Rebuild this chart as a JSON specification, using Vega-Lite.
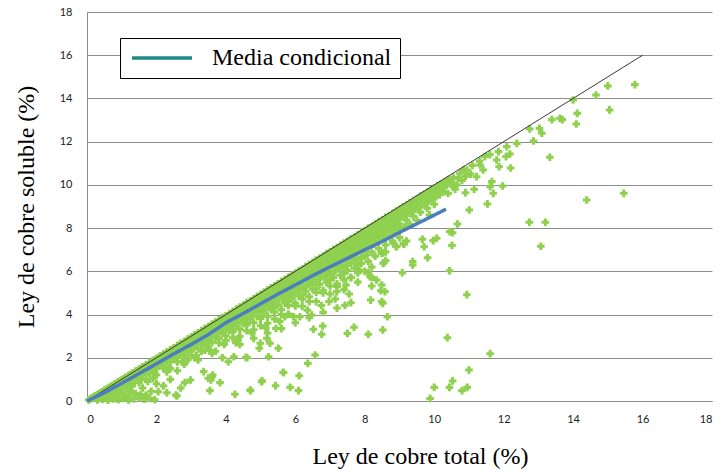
{
  "$schema": "https://vega.github.io/schema/vega-lite/v6.json",
  "width": 625,
  "height": 389,
  "autosize": "none",
  "padding": {"left": 87, "top": 12, "right": 9, "bottom": 71},
  "background": "white",
  "config": {
    "view": {"stroke": null},
    "axis": {
      "labelFont": "Lato", "labelFontSize": 11, "labelColor": "#222222",
      "titleFont": "Liberation Serif", "titleFontSize": 24, "titleFontWeight": "normal", "titleColor": "#000000",
      "domainColor": "#8c8c8c", "domainWidth": 1, "ticks": false, "gridColor": "#8c8c8c", "gridWidth": 1, "gridOpacity": 1
    },
    "axisX": {"grid": false, "labelPadding": 12, "titlePadding": 20, "titleX": 333},
    "axisY": {"grid": true, "labelPadding": 15, "titlePadding": 21}
  },
  "datasets": {
    "puntos": [
      {"x":0.1,"y":0.1},{"x":0.2,"y":0.2},{"x":0.3,"y":0.29},{"x":0.4,"y":0.39},{"x":0.5,"y":0.5},{"x":0.6,"y":0.59},{"x":0.7,"y":0.69},{"x":0.8,"y":0.79},{"x":0.9,"y":0.89},{"x":1.0,"y":0.98},
      {"x":1.1,"y":1.09},{"x":1.2,"y":1.18},{"x":1.3,"y":1.28},{"x":1.4,"y":1.39},{"x":1.5,"y":1.47},{"x":1.6,"y":1.58},{"x":1.7,"y":1.68},{"x":1.8,"y":1.77},{"x":1.9,"y":1.88},{"x":2.0,"y":1.97},
      {"x":2.1,"y":2.08},{"x":2.2,"y":2.17},{"x":2.3,"y":2.27},{"x":2.4,"y":2.38},{"x":2.5,"y":2.46},{"x":2.6,"y":2.57},{"x":2.7,"y":2.67},{"x":2.8,"y":2.75},{"x":2.9,"y":2.87},{"x":3.0,"y":2.96},
      {"x":3.1,"y":3.07},{"x":3.2,"y":3.15},{"x":3.3,"y":3.26},{"x":3.4,"y":3.36},{"x":3.5,"y":3.44},{"x":3.6,"y":3.56},{"x":3.7,"y":3.65},{"x":3.8,"y":3.74},{"x":3.9,"y":3.86},{"x":4.0,"y":3.94},
      {"x":4.1,"y":4.05},{"x":4.2,"y":4.14},{"x":4.3,"y":4.25},{"x":4.4,"y":4.35},{"x":4.5,"y":4.43},{"x":4.6,"y":4.55},{"x":4.7,"y":4.63},{"x":4.8,"y":4.73},{"x":4.9,"y":4.85},{"x":5.0,"y":4.92},
      {"x":5.1,"y":5.04},{"x":5.2,"y":5.13},{"x":5.3,"y":5.24},{"x":5.4,"y":5.33},{"x":5.5,"y":5.42},{"x":5.6,"y":5.54},{"x":5.7,"y":5.62},{"x":5.8,"y":5.72},{"x":5.9,"y":5.83},{"x":6.0,"y":5.91},
      {"x":6.1,"y":6.03},{"x":6.2,"y":6.11},{"x":6.3,"y":6.22},{"x":6.4,"y":6.33},{"x":6.5,"y":6.41},{"x":6.6,"y":6.52},{"x":6.7,"y":6.61},{"x":6.8,"y":6.7},{"x":6.9,"y":6.82},{"x":7.0,"y":6.9},
      {"x":7.1,"y":7.02},{"x":7.2,"y":7.1},{"x":7.3,"y":7.21},{"x":7.4,"y":7.31},{"x":7.5,"y":7.39},{"x":7.6,"y":7.51},{"x":7.7,"y":7.59},{"x":7.8,"y":7.69},{"x":7.9,"y":7.81},{"x":8.0,"y":7.88},
      {"x":8.1,"y":8.0},{"x":8.2,"y":8.08},{"x":8.3,"y":8.19},{"x":8.4,"y":8.3},{"x":8.5,"y":8.37},{"x":8.6,"y":8.5},{"x":8.7,"y":8.57},{"x":8.8,"y":8.68},{"x":8.9,"y":8.79},{"x":9.0,"y":8.87},
      {"x":9.1,"y":8.99},{"x":9.2,"y":9.07},{"x":9.3,"y":9.17},{"x":9.4,"y":9.28},{"x":9.5,"y":9.36},{"x":9.6,"y":9.48},{"x":9.7,"y":9.56},{"x":9.8,"y":9.66},{"x":9.9,"y":9.77},{"x":10.0,"y":9.85},
      {"x":10.1,"y":9.97},{"x":10.2,"y":10.05},{"x":10.3,"y":10.15},{"x":10.4,"y":10.25},
      {"x":0.05,"y":0.05},{"x":0.15,"y":0.14},{"x":0.25,"y":0.24},{"x":0.35,"y":0.34},{"x":0.45,"y":0.43},{"x":0.55,"y":0.53},{"x":0.65,"y":0.63},{"x":0.75,"y":0.72},{"x":0.85,"y":0.82},{"x":0.95,"y":0.92},
      {"x":1.05,"y":1.01},{"x":1.15,"y":1.11},{"x":1.25,"y":1.21},{"x":1.35,"y":1.3},{"x":1.45,"y":1.4},{"x":1.55,"y":1.5},{"x":1.65,"y":1.59},{"x":1.75,"y":1.69},{"x":1.85,"y":1.79},{"x":1.95,"y":1.88},
      {"x":2.05,"y":1.98},{"x":2.15,"y":2.07},{"x":2.25,"y":2.17},{"x":2.35,"y":2.27},{"x":2.45,"y":2.36},{"x":2.55,"y":2.46},{"x":2.65,"y":2.56},{"x":2.75,"y":2.65},{"x":2.85,"y":2.75},{"x":2.95,"y":2.85},
      {"x":3.05,"y":2.94},{"x":3.15,"y":3.04},{"x":3.25,"y":3.14},{"x":3.35,"y":3.23},{"x":3.45,"y":3.33},{"x":3.55,"y":3.43},{"x":3.65,"y":3.52},{"x":3.75,"y":3.62},{"x":3.85,"y":3.72},{"x":3.95,"y":3.81},
      {"x":4.05,"y":3.91},{"x":4.15,"y":4.0},{"x":4.25,"y":4.1},{"x":4.35,"y":4.2},{"x":4.45,"y":4.29},{"x":4.55,"y":4.39},{"x":4.65,"y":4.49},{"x":4.75,"y":4.58},{"x":4.85,"y":4.68},{"x":4.95,"y":4.78},
      {"x":5.05,"y":4.87},{"x":5.15,"y":4.97},{"x":5.25,"y":5.07},{"x":5.35,"y":5.16},{"x":5.45,"y":5.26},{"x":5.55,"y":5.36},{"x":5.65,"y":5.45},{"x":5.75,"y":5.55},{"x":5.85,"y":5.65},{"x":5.95,"y":5.74},
      {"x":6.05,"y":5.84},{"x":6.15,"y":5.93},{"x":6.25,"y":6.03},{"x":6.35,"y":6.13},{"x":6.45,"y":6.22},{"x":6.55,"y":6.32},{"x":6.65,"y":6.42},{"x":6.75,"y":6.51},{"x":6.85,"y":6.61},{"x":6.95,"y":6.71},
      {"x":7.05,"y":6.8},{"x":7.15,"y":6.9},{"x":7.25,"y":7.0},{"x":7.35,"y":7.09},{"x":7.45,"y":7.19},{"x":7.55,"y":7.29},{"x":7.65,"y":7.38},{"x":7.75,"y":7.48},{"x":7.85,"y":7.58},{"x":7.95,"y":7.67},
      {"x":8.05,"y":7.77},{"x":8.15,"y":7.86},{"x":8.25,"y":7.96},{"x":8.35,"y":8.06},{"x":8.45,"y":8.15},{"x":8.55,"y":8.25},{"x":8.65,"y":8.35},{"x":8.75,"y":8.44},{"x":8.85,"y":8.54},{"x":8.95,"y":8.64},
      {"x":9.05,"y":8.73},{"x":9.15,"y":8.83},{"x":9.25,"y":8.93},{"x":9.35,"y":9.02},{"x":9.45,"y":9.12},{"x":9.55,"y":9.22},{"x":9.65,"y":9.31},{"x":9.75,"y":9.41},{"x":9.85,"y":9.51},{"x":9.95,"y":9.6},
      {"x":10.05,"y":9.7},{"x":10.15,"y":9.79},{"x":10.25,"y":9.89},{"x":10.35,"y":9.99},
      {"x":0.15,"y":0.14},{"x":0.25,"y":0.23},{"x":0.35,"y":0.33},{"x":0.45,"y":0.42},{"x":0.55,"y":0.52},{"x":0.65,"y":0.61},{"x":0.75,"y":0.7},{"x":0.85,"y":0.8},{"x":0.95,"y":0.89},{"x":1.05,"y":0.99},
      {"x":1.15,"y":1.08},{"x":1.25,"y":1.17},{"x":1.35,"y":1.27},{"x":1.45,"y":1.36},{"x":1.55,"y":1.46},{"x":1.65,"y":1.55},{"x":1.75,"y":1.64},{"x":1.85,"y":1.74},{"x":1.95,"y":1.83},{"x":2.05,"y":1.93},
      {"x":2.15,"y":2.02},{"x":2.25,"y":2.11},{"x":2.35,"y":2.21},{"x":2.45,"y":2.3},{"x":2.55,"y":2.4},{"x":2.65,"y":2.49},{"x":2.75,"y":2.58},{"x":2.85,"y":2.68},{"x":2.95,"y":2.77},{"x":3.05,"y":2.87},
      {"x":3.15,"y":2.96},{"x":3.25,"y":3.05},{"x":3.35,"y":3.15},{"x":3.45,"y":3.24},{"x":3.55,"y":3.34},{"x":3.65,"y":3.43},{"x":3.75,"y":3.52},{"x":3.85,"y":3.62},{"x":3.95,"y":3.71},{"x":4.05,"y":3.81},
      {"x":4.15,"y":3.9},{"x":4.25,"y":3.99},{"x":4.35,"y":4.09},{"x":4.45,"y":4.18},{"x":4.55,"y":4.28},{"x":4.65,"y":4.37},{"x":4.75,"y":4.46},{"x":4.85,"y":4.56},{"x":4.95,"y":4.65},{"x":5.05,"y":4.75},
      {"x":5.15,"y":4.84},{"x":5.25,"y":4.93},{"x":5.35,"y":5.03},{"x":5.45,"y":5.12},{"x":5.55,"y":5.22},{"x":5.65,"y":5.31},{"x":5.75,"y":5.4},{"x":5.85,"y":5.5},{"x":5.95,"y":5.59},{"x":6.05,"y":5.69},
      {"x":6.15,"y":5.78},{"x":6.25,"y":5.87},{"x":6.35,"y":5.97},{"x":6.45,"y":6.06},{"x":6.55,"y":6.16},{"x":6.65,"y":6.25},{"x":6.75,"y":6.34},{"x":6.85,"y":6.44},{"x":6.95,"y":6.53},{"x":7.05,"y":6.63},
      {"x":7.15,"y":6.72},{"x":7.25,"y":6.81},{"x":7.35,"y":6.91},{"x":7.45,"y":7.0},{"x":7.55,"y":7.1},{"x":7.65,"y":7.19},{"x":7.75,"y":7.28},{"x":7.85,"y":7.38},{"x":7.95,"y":7.47},{"x":8.05,"y":7.57},
      {"x":8.15,"y":7.66},{"x":8.25,"y":7.75},{"x":8.35,"y":7.85},{"x":8.45,"y":7.94},{"x":8.55,"y":8.04},{"x":8.65,"y":8.13},{"x":8.75,"y":8.22},{"x":8.85,"y":8.32},{"x":8.95,"y":8.41},{"x":9.05,"y":8.51},
      {"x":9.15,"y":8.6},{"x":9.25,"y":8.69},{"x":9.35,"y":8.79},{"x":9.45,"y":8.88},{"x":9.55,"y":8.98},{"x":9.65,"y":9.07},{"x":9.75,"y":9.16},{"x":9.85,"y":9.26},{"x":9.95,"y":9.35},{"x":10.05,"y":9.45},
      {"x":10.15,"y":9.54},{"x":10.3,"y":9.68},
      {"x":0.2,"y":0.18},{"x":0.3,"y":0.27},{"x":0.4,"y":0.36},{"x":0.5,"y":0.46},{"x":0.6,"y":0.55},{"x":0.7,"y":0.64},{"x":0.8,"y":0.73},{"x":0.9,"y":0.82},{"x":1.0,"y":0.91},{"x":1.1,"y":1.0},
      {"x":1.2,"y":1.09},{"x":1.3,"y":1.18},{"x":1.4,"y":1.27},{"x":1.5,"y":1.37},{"x":1.6,"y":1.46},{"x":1.7,"y":1.55},{"x":1.8,"y":1.64},{"x":1.9,"y":1.73},{"x":2.0,"y":1.82},{"x":2.1,"y":1.91},
      {"x":2.2,"y":2.0},{"x":2.3,"y":2.09},{"x":2.4,"y":2.18},{"x":2.5,"y":2.28},{"x":2.6,"y":2.37},{"x":2.7,"y":2.46},{"x":2.8,"y":2.55},{"x":2.9,"y":2.64},{"x":3.0,"y":2.73},{"x":3.1,"y":2.82},
      {"x":3.2,"y":2.91},{"x":3.3,"y":3.0},{"x":3.4,"y":3.09},{"x":3.5,"y":3.19},{"x":3.6,"y":3.28},{"x":3.7,"y":3.37},{"x":3.8,"y":3.46},{"x":3.9,"y":3.55},{"x":4.0,"y":3.64},{"x":4.1,"y":3.73},
      {"x":4.2,"y":3.82},{"x":4.3,"y":3.91},{"x":4.4,"y":4.0},{"x":4.5,"y":4.1},{"x":4.6,"y":4.19},{"x":4.7,"y":4.28},{"x":4.8,"y":4.37},{"x":4.9,"y":4.46},{"x":5.0,"y":4.55},{"x":5.1,"y":4.64},
      {"x":5.2,"y":4.73},{"x":5.3,"y":4.82},{"x":5.4,"y":4.91},{"x":5.5,"y":5.01},{"x":5.6,"y":5.1},{"x":5.7,"y":5.19},{"x":5.8,"y":5.28},{"x":5.9,"y":5.37},{"x":6.0,"y":5.46},{"x":6.1,"y":5.55},
      {"x":6.2,"y":5.64},{"x":6.3,"y":5.73},{"x":6.4,"y":5.82},{"x":6.5,"y":5.92},{"x":6.6,"y":6.01},{"x":6.7,"y":6.1},{"x":6.8,"y":6.19},{"x":6.9,"y":6.28},{"x":7.0,"y":6.37},{"x":7.1,"y":6.46},
      {"x":7.2,"y":6.55},{"x":7.3,"y":6.64},{"x":7.4,"y":6.73},{"x":7.5,"y":6.83},{"x":7.6,"y":6.92},{"x":7.7,"y":7.01},{"x":7.8,"y":7.1},{"x":7.9,"y":7.19},{"x":8.0,"y":7.28},{"x":8.1,"y":7.37},
      {"x":8.2,"y":7.46},{"x":8.3,"y":7.55},{"x":8.4,"y":7.64},{"x":8.5,"y":7.74},{"x":8.6,"y":7.83},{"x":8.7,"y":7.92},{"x":8.8,"y":8.01},{"x":8.9,"y":8.1},{"x":9.0,"y":8.19},{"x":9.2,"y":8.37},
      {"x":9.4,"y":8.55},{"x":9.6,"y":8.74},{"x":9.8,"y":8.92},{"x":10.0,"y":9.1},
      {"x":0.3,"y":0.26},{"x":0.45,"y":0.4},{"x":0.6,"y":0.53},{"x":0.75,"y":0.66},{"x":0.9,"y":0.79},{"x":1.05,"y":0.92},{"x":1.2,"y":1.06},{"x":1.35,"y":1.19},{"x":1.5,"y":1.32},{"x":1.65,"y":1.45},
      {"x":1.8,"y":1.58},{"x":1.95,"y":1.72},{"x":2.1,"y":1.85},{"x":2.25,"y":1.98},{"x":2.4,"y":2.11},{"x":2.55,"y":2.24},{"x":2.7,"y":2.38},{"x":2.85,"y":2.51},{"x":3.0,"y":2.64},{"x":3.15,"y":2.77},
      {"x":3.3,"y":2.9},{"x":3.45,"y":3.04},{"x":3.6,"y":3.17},{"x":3.75,"y":3.3},{"x":3.9,"y":3.43},{"x":4.05,"y":3.56},{"x":4.2,"y":3.7},{"x":4.35,"y":3.83},{"x":4.5,"y":3.96},{"x":4.65,"y":4.09},
      {"x":4.8,"y":4.22},{"x":4.95,"y":4.36},{"x":5.1,"y":4.49},{"x":5.25,"y":4.62},{"x":5.4,"y":4.75},{"x":5.55,"y":4.88},{"x":5.7,"y":5.02},{"x":5.85,"y":5.15},{"x":6.0,"y":5.28},{"x":6.15,"y":5.41},
      {"x":6.3,"y":5.54},{"x":6.45,"y":5.68},{"x":6.6,"y":5.81},{"x":6.75,"y":5.94},{"x":6.9,"y":6.07},{"x":7.05,"y":6.2},{"x":7.2,"y":6.34},{"x":7.35,"y":6.47},{"x":7.5,"y":6.6},{"x":7.65,"y":6.73},
      {"x":7.8,"y":6.86},{"x":7.95,"y":7.0},{"x":8.1,"y":7.13},{"x":8.25,"y":7.26},{"x":8.4,"y":7.39},{"x":8.55,"y":7.52},{"x":8.7,"y":7.66},{"x":8.85,"y":7.79},{"x":9.0,"y":7.92},{"x":9.15,"y":8.05},
      {"x":9.3,"y":8.18},{"x":9.5,"y":8.36},
      {"x":0.4,"y":0.34},{"x":0.55,"y":0.46},{"x":0.7,"y":0.59},{"x":0.85,"y":0.71},{"x":1.0,"y":0.84},{"x":1.15,"y":0.97},{"x":1.3,"y":1.09},{"x":1.45,"y":1.22},{"x":1.6,"y":1.34},{"x":1.75,"y":1.47},
      {"x":1.9,"y":1.6},{"x":2.05,"y":1.72},{"x":2.2,"y":1.85},{"x":2.35,"y":1.97},{"x":2.5,"y":2.1},{"x":2.65,"y":2.23},{"x":2.8,"y":2.35},{"x":2.95,"y":2.48},{"x":3.1,"y":2.6},{"x":3.25,"y":2.73},
      {"x":3.4,"y":2.86},{"x":3.55,"y":2.98},{"x":3.7,"y":3.11},{"x":3.85,"y":3.23},{"x":4.0,"y":3.36},{"x":4.15,"y":3.49},{"x":4.3,"y":3.61},{"x":4.45,"y":3.74},{"x":4.6,"y":3.86},{"x":4.75,"y":3.99},
      {"x":4.9,"y":4.12},{"x":5.05,"y":4.24},{"x":5.2,"y":4.37},{"x":5.35,"y":4.49},{"x":5.5,"y":4.62},{"x":5.65,"y":4.75},{"x":5.8,"y":4.87},{"x":5.95,"y":5.0},{"x":6.1,"y":5.12},{"x":6.25,"y":5.25},
      {"x":6.4,"y":5.38},{"x":6.55,"y":5.5},{"x":6.7,"y":5.63},{"x":6.85,"y":5.75},{"x":7.0,"y":5.88},{"x":7.15,"y":6.01},{"x":7.3,"y":6.13},{"x":7.45,"y":6.26},{"x":7.6,"y":6.38},{"x":7.75,"y":6.51},
      {"x":7.9,"y":6.64},{"x":8.05,"y":6.76},{"x":8.2,"y":6.89},{"x":8.4,"y":7.06},{"x":8.6,"y":7.22},{"x":8.8,"y":7.39},{"x":9.0,"y":7.56},
      {"x":0.5,"y":0.38},{"x":0.7,"y":0.55},{"x":0.9,"y":0.7},{"x":1.1,"y":0.86},{"x":1.3,"y":1.03},{"x":1.5,"y":1.18},{"x":1.7,"y":1.36},{"x":1.9,"y":1.5},{"x":2.1,"y":1.66},{"x":2.3,"y":1.86},
      {"x":2.5,"y":1.98},{"x":2.7,"y":2.18},{"x":2.9,"y":2.3},{"x":3.1,"y":2.5},{"x":3.3,"y":2.62},{"x":3.5,"y":2.82},{"x":3.7,"y":2.94},{"x":3.9,"y":3.15},{"x":4.1,"y":3.26},{"x":4.3,"y":3.47},
      {"x":4.5,"y":3.58},{"x":4.7,"y":3.8},{"x":4.9,"y":3.9},{"x":5.1,"y":4.12},{"x":5.3,"y":4.22},{"x":5.5,"y":4.44},{"x":5.7,"y":4.52},{"x":5.9,"y":4.76},{"x":6.1,"y":4.86},{"x":6.3,"y":5.08},
      {"x":6.5,"y":5.18},{"x":6.7,"y":5.4},{"x":6.9,"y":5.5},{"x":7.1,"y":5.72},{"x":7.3,"y":5.82},{"x":7.5,"y":6.05},{"x":7.7,"y":6.14},{"x":7.9,"y":6.36},{"x":8.1,"y":6.45},{"x":8.3,"y":6.7},
      {"x":8.6,"y":6.9},{"x":8.9,"y":7.15},{"x":9.2,"y":7.4},
      {"x":0.4,"y":0.3},{"x":0.6,"y":0.47},{"x":0.8,"y":0.6},{"x":1.0,"y":0.77},{"x":1.2,"y":0.9},{"x":1.4,"y":1.08},{"x":1.6,"y":1.2},{"x":1.8,"y":1.39},{"x":2.0,"y":1.5},{"x":2.2,"y":1.7},
      {"x":2.4,"y":1.8},{"x":2.6,"y":2.0},{"x":2.8,"y":2.1},{"x":3.0,"y":2.3},{"x":3.2,"y":2.42},{"x":3.4,"y":2.6},{"x":3.6,"y":2.72},{"x":3.8,"y":2.9},{"x":4.0,"y":3.02},{"x":4.2,"y":3.2},
      {"x":4.4,"y":3.32},{"x":4.6,"y":3.52},{"x":4.8,"y":3.62},{"x":5.0,"y":3.82},{"x":5.2,"y":3.92},{"x":5.4,"y":4.12},{"x":5.6,"y":4.22},{"x":5.8,"y":4.42},{"x":6.0,"y":4.52},{"x":6.2,"y":4.72},
      {"x":6.4,"y":4.82},{"x":6.6,"y":5.02},{"x":6.8,"y":5.12},{"x":7.0,"y":5.32},{"x":7.2,"y":5.42},{"x":7.4,"y":5.62},{"x":7.6,"y":5.72},{"x":7.8,"y":5.92},{"x":8.2,"y":6.2},{"x":8.6,"y":6.5},
      {"x":0.6,"y":0.4},{"x":1.0,"y":0.68},{"x":1.4,"y":0.98},{"x":1.8,"y":1.28},{"x":2.2,"y":1.52},{"x":2.6,"y":1.8},{"x":3.0,"y":2.12},{"x":3.4,"y":2.35},{"x":3.8,"y":2.68},{"x":4.2,"y":2.92},
      {"x":4.6,"y":3.25},{"x":5.0,"y":3.48},{"x":5.4,"y":3.8},{"x":5.8,"y":4.02},{"x":6.2,"y":4.38},{"x":6.6,"y":4.6},{"x":7.0,"y":4.95},{"x":7.4,"y":5.15},{"x":7.8,"y":5.5},{"x":8.2,"y":5.72},
      {"x":1.15,"y":0.78},{"x":1.55,"y":1.0},{"x":1.95,"y":1.3},{"x":2.35,"y":1.55},{"x":2.75,"y":1.82},{"x":3.15,"y":2.1},{"x":3.55,"y":2.33},{"x":3.95,"y":2.62},{"x":4.35,"y":2.85},{"x":4.75,"y":3.15},
      {"x":5.15,"y":3.38},{"x":5.55,"y":3.68},{"x":5.95,"y":3.9},{"x":6.35,"y":4.2},{"x":6.75,"y":4.42},{"x":7.15,"y":4.72},{"x":7.55,"y":4.95},
      {"x":0.8,"y":0.45},{"x":1.3,"y":0.78},{"x":1.7,"y":1.0},{"x":2.3,"y":1.35},{"x":2.8,"y":1.7},{"x":3.2,"y":1.9},{"x":3.6,"y":2.2},{"x":4.4,"y":2.62},{"x":4.8,"y":2.9},{"x":5.2,"y":3.15},
      {"x":5.6,"y":3.35},{"x":6.0,"y":3.62},{"x":6.4,"y":3.85},{"x":6.8,"y":4.1},{"x":7.2,"y":4.3},{"x":7.6,"y":4.55},
      {"x":2.0,"y":1.2},{"x":2.4,"y":1.5},{"x":2.6,"y":1.4},{"x":2.9,"y":1.9},{"x":3.1,"y":2.0},{"x":3.3,"y":2.3},{"x":3.5,"y":2.5},{"x":3.7,"y":2.3},{"x":3.9,"y":2.0},{"x":4.0,"y":2.8},
      {"x":4.2,"y":3.3},{"x":4.4,"y":3.0},{"x":4.6,"y":3.6},{"x":4.8,"y":3.3},{"x":5.0,"y":3.9},{"x":5.2,"y":3.6},{"x":5.4,"y":4.3},{"x":5.6,"y":4.0},{"x":5.8,"y":4.6},{"x":6.0,"y":4.4},
      {"x":6.2,"y":4.9},{"x":6.4,"y":4.6},{"x":6.6,"y":5.2},{"x":6.8,"y":5.0},{"x":7.0,"y":5.6},{"x":7.2,"y":5.3},{"x":7.4,"y":5.9},{"x":7.6,"y":5.7},{"x":7.8,"y":6.3},{"x":8.0,"y":6.0},
      {"x":8.0,"y":6.7},{"x":7.7,"y":6.6},{"x":7.3,"y":6.2},{"x":6.9,"y":5.9},{"x":6.5,"y":5.5},{"x":6.1,"y":5.2},{"x":5.7,"y":4.8},{"x":5.3,"y":4.5},{"x":4.9,"y":4.2},{"x":4.5,"y":3.8},
      {"x":4.1,"y":3.4},{"x":3.7,"y":3.1},{"x":3.3,"y":2.75},{"x":2.9,"y":2.4},{"x":2.5,"y":2.05},{"x":2.1,"y":1.7},{"x":1.7,"y":1.35},{"x":1.3,"y":1.0},{"x":0.9,"y":0.65},
      {"x":0.4,"y":0.15},{"x":0.6,"y":0.25},{"x":0.7,"y":0.35},{"x":0.85,"y":0.5},{"x":1.0,"y":0.55},{"x":1.15,"y":0.6},{"x":1.3,"y":0.7},{"x":1.5,"y":0.85},{"x":1.6,"y":0.6},{"x":1.75,"y":0.9},
      {"x":1.9,"y":1.05},{"x":2.0,"y":0.8},{"x":1.2,"y":0.2},{"x":1.55,"y":0.3},{"x":1.85,"y":0.45},{"x":2.2,"y":0.7},{"x":2.4,"y":1.0},{"x":2.7,"y":0.6},{"x":1.0,"y":0.18},{"x":0.65,"y":0.12},
      {"x":0.3,"y":0.05},{"x":0.45,"y":0.08},{"x":0.6,"y":0.04},{"x":0.75,"y":0.1},{"x":0.9,"y":0.06},{"x":1.05,"y":0.12},{"x":1.2,"y":0.05},{"x":1.35,"y":0.1},{"x":1.5,"y":0.14},{"x":1.65,"y":0.08},
      {"x":1.95,"y":0.06},{"x":0.5,"y":0.2},{"x":0.8,"y":0.25},{"x":1.1,"y":0.3},{"x":1.4,"y":0.35},{"x":1.7,"y":0.28},{"x":1.25,"y":0.45},{"x":0.95,"y":0.4},{"x":1.81,"y":0.12},
      {"x":3.54,"y":0.48},{"x":3.83,"y":0.85},{"x":3.49,"y":1.05},{"x":3.62,"y":1.2},{"x":2.82,"y":0.85},{"x":2.56,"y":0.28},{"x":2.3,"y":0.38},{"x":2.05,"y":0.43},{"x":4.07,"y":1.82},{"x":3.57,"y":0.97},
      {"x":5.04,"y":0.94},{"x":4.7,"y":0.51},{"x":5.66,"y":1.31},{"x":4.61,"y":2.0},{"x":5.23,"y":2.05},{"x":4.99,"y":2.67},{"x":5.18,"y":2.9},{"x":3.36,"y":1.36},{"x":3.6,"y":1.12},{"x":2.98,"y":0.97},
      {"x":2.59,"y":0.23},
      {"x":8.1,"y":3.09},{"x":7.69,"y":3.41},{"x":7.5,"y":3.13},{"x":6.79,"y":3.47},{"x":6.52,"y":3.32},{"x":6.76,"y":3.09},{"x":6.57,"y":2.13},{"x":6.36,"y":1.74},{"x":6.11,"y":1.17},{"x":5.65,"y":1.33},
      {"x":5.43,"y":0.71},{"x":5.85,"y":0.63},{"x":6.09,"y":0.48},{"x":5.03,"y":0.89},{"x":4.71,"y":0.48},{"x":4.26,"y":0.31},{"x":8.17,"y":4.67},{"x":8.49,"y":4.6},{"x":8.46,"y":5.1},{"x":8.2,"y":5.32},
      {"x":8.34,"y":5.6},{"x":8.15,"y":5.75},{"x":8.1,"y":5.94},{"x":8.49,"y":6.83},{"x":8.53,"y":6.37},{"x":8.82,"y":7.3},{"x":9.11,"y":7.3},{"x":7.84,"y":6.06},{"x":7.46,"y":5.37},{"x":7.43,"y":4.43},
      {"x":7.19,"y":5.06},{"x":6.97,"y":4.6},{"x":6.13,"y":3.9},{"x":6.47,"y":3.98},{"x":5.7,"y":3.9},{"x":5.44,"y":3.36},{"x":5.27,"y":2.67},{"x":5.51,"y":2.44},{"x":4.96,"y":2.44},{"x":4.58,"y":2.02},
      {"x":4.23,"y":2.05},{"x":4.29,"y":2.7},
      {"x":10.67,"y":8.19},{"x":10.45,"y":7.84},{"x":10.53,"y":7.79},{"x":10.51,"y":7.2},{"x":10.07,"y":7.53},{"x":9.97,"y":7.42},{"x":9.66,"y":7.48},{"x":9.71,"y":7.14},{"x":9.81,"y":6.63},{"x":9.38,"y":6.45},
      {"x":9.38,"y":6.29},{"x":9.08,"y":5.94},{"x":8.92,"y":7.14},{"x":9.13,"y":7.26},{"x":8.52,"y":6.86},{"x":8.55,"y":6.4},{"x":10.44,"y":6.03},{"x":8.49,"y":5.37},{"x":8.58,"y":5.06},{"x":8.52,"y":4.52},
      {"x":8.65,"y":3.9},{"x":8.52,"y":3.29},{"x":10.94,"y":4.92},{"x":10.38,"y":2.93},{"x":11.61,"y":2.19},{"x":11.0,"y":1.43},{"x":10.53,"y":0.93},{"x":10.44,"y":0.63},{"x":10.0,"y":0.63},{"x":10.8,"y":0.48},
      {"x":10.95,"y":0.63},{"x":9.88,"y":0.12},{"x":9.86,"y":8.61},
      {"x":12.38,"y":11.92},{"x":12.09,"y":11.77},{"x":12.18,"y":11.43},{"x":12.07,"y":11.31},{"x":11.85,"y":11.54},{"x":11.8,"y":11.15},{"x":11.87,"y":10.84},{"x":12.2,"y":10.78},{"x":11.46,"y":11.31},{"x":11.32,"y":10.92},
      {"x":11.41,"y":10.69},{"x":11.22,"y":10.38},{"x":10.94,"y":10.69},{"x":11.66,"y":10.15},{"x":11.61,"y":9.92},{"x":11.97,"y":9.95},{"x":11.15,"y":9.8},{"x":10.9,"y":9.64},{"x":11.7,"y":9.61},{"x":11.53,"y":9.12},
      {"x":11.01,"y":8.84},{"x":10.45,"y":10.23},{"x":10.65,"y":10.0},{"x":10.74,"y":10.54},{"x":10.84,"y":10.69},{"x":10.55,"y":10.35},{"x":10.6,"y":9.8},{"x":10.8,"y":10.2},{"x":11.1,"y":10.9},{"x":11.05,"y":10.5},
      {"x":10.3,"y":9.9},{"x":10.5,"y":10.1},{"x":10.7,"y":10.3},{"x":10.4,"y":9.6},{"x":10.55,"y":9.9},{"x":10.9,"y":10.4},{"x":11.3,"y":11.1},{"x":11.6,"y":11.4},
      {"x":15.78,"y":14.64},{"x":15.0,"y":14.58},{"x":14.66,"y":14.16},{"x":14.0,"y":13.93},{"x":14.12,"y":13.31},{"x":15.05,"y":13.47},{"x":14.09,"y":12.82},{"x":13.39,"y":13.02},{"x":13.62,"y":13.08},{"x":13.69,"y":13.02},
      {"x":12.75,"y":12.59},{"x":13.03,"y":12.62},{"x":13.1,"y":12.39},{"x":12.86,"y":12.03},{"x":13.33,"y":11.28},{"x":14.39,"y":9.3},{"x":15.46,"y":9.61},{"x":12.74,"y":8.27},{"x":13.2,"y":8.27},{"x":13.07,"y":7.16}
    ],
    "diagonal": [{"x": 0, "y": 0}, {"x": 16, "y": 16}],
    "media": [
      {"x":0,"y":0,"serie":"Media condicional"},{"x":0.5,"y":0.38,"serie":"Media condicional"},{"x":1.0,"y":0.82,"serie":"Media condicional"},{"x":1.5,"y":1.27,"serie":"Media condicional"},
      {"x":2.0,"y":1.72,"serie":"Media condicional"},{"x":2.5,"y":2.18,"serie":"Media condicional"},{"x":3.0,"y":2.62,"serie":"Media condicional"},{"x":3.5,"y":3.08,"serie":"Media condicional"},
      {"x":4.0,"y":3.62,"serie":"Media condicional"},{"x":4.5,"y":4.05,"serie":"Media condicional"},{"x":5.0,"y":4.5,"serie":"Media condicional"},{"x":5.5,"y":4.95,"serie":"Media condicional"},
      {"x":6.0,"y":5.37,"serie":"Media condicional"},{"x":6.5,"y":5.8,"serie":"Media condicional"},{"x":7.0,"y":6.21,"serie":"Media condicional"},{"x":7.5,"y":6.6,"serie":"Media condicional"},
      {"x":8.0,"y":7.0,"serie":"Media condicional"},{"x":8.5,"y":7.38,"serie":"Media condicional"},{"x":9.0,"y":7.8,"serie":"Media condicional"},{"x":9.5,"y":8.2,"serie":"Media condicional"},
      {"x":10.0,"y":8.6,"serie":"Media condicional"},{"x":10.34,"y":8.88,"serie":"Media condicional"}
    ]
  },
  "layer": [
    {
      "data": {"name": "puntos"},
      "mark": {"type": "point", "shape": "cross", "filled": true, "size": 58, "color": "#8fd14f", "opacity": 1, "strokeWidth": 0},
      "encoding": {
        "x": {"field": "x", "type": "quantitative", "scale": {"domain": [0, 18], "nice": false},
              "axis": {"title": "Ley de cobre total (%)", "values": [0,2,4,6,8,10,12,14,16,18]}},
        "y": {"field": "y", "type": "quantitative", "scale": {"domain": [0, 18], "nice": false},
              "axis": {"title": "Ley de cobre soluble (%)", "values": [0,2,4,6,8,10,12,14,16,18]}}
      }
    },
    {
      "data": {"name": "diagonal"},
      "mark": {"type": "line", "color": "#3a3a3a", "strokeWidth": 1},
      "encoding": {
        "x": {"field": "x", "type": "quantitative"},
        "y": {"field": "y", "type": "quantitative"}
      }
    },
    {
      "data": {"name": "media"},
      "mark": {"type": "line", "strokeWidth": 3.5, "color": "#4a7ebf"},
      "encoding": {
        "x": {"field": "x", "type": "quantitative"},
        "y": {"field": "y", "type": "quantitative"},
        "strokeDash": {
          "field": "serie", "type": "nominal",
          "scale": {"range": [[1, 0]]},
          "legend": {
            "title": null, "orient": "none", "legendX": 33, "legendY": 26,
            "strokeColor": "#000000", "fillColor": "#ffffff", "padding": 8,
            "symbolType": "M-3,0H3", "symbolSize": 400, "symbolStrokeWidth": 3.5, "symbolOffset": 22,
            "symbolStrokeColor": "#1d8a87", "symbolDash": [1, 0],
            "labelFont": "Liberation Serif", "labelFontSize": 24, "labelColor": "#000000", "labelOffset": 38, "labelLimit": 400
          }
        }
      }
    }
  ]
}
